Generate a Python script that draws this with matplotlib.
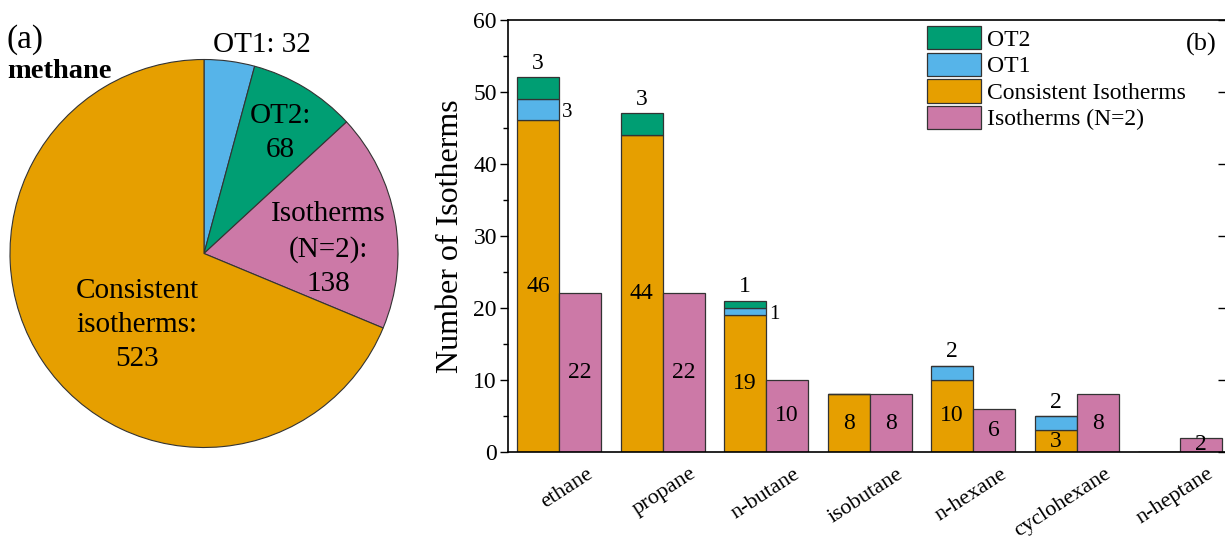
import numpy as np
import matplotlib
matplotlib.use("Agg")
import matplotlib.pyplot as plt
from matplotlib.ticker import MultipleLocator

plt.rcParams['font.family'] = ['Liberation Serif', 'DejaVu Serif']

# ---- data ----
pie_labels = ['OT1', 'OT2', 'Isotherms (N=2)', 'Consistent isotherms']
pie_values = [32, 68, 138, 523]

categories = ['ethane', 'propane', 'n-butane', 'isobutane', 'n-hexane', 'cyclohexane', 'n-heptane']
consistent = [46, 44, 19, 8, 10, 3, 0]
ot1 = [3, 0, 1, 0, 2, 2, 0]
ot2 = [3, 3, 1, 0, 0, 0, 0]
n2 = [22, 22, 10, 8, 6, 8, 2]

C_OT1 = '#56B4E9'
C_OT2 = '#009E73'
C_CON = '#E69F00'
C_N2 = '#CC79A7'
EDGE = '#333333'

W, H = 1225, 541
fig = plt.figure(figsize=(W / 100, H / 100), dpi=100)

# ---- pie ----
cx, cy, r = 204, 253.5, 194
axp = fig.add_axes([(cx - r) / W, (H - cy - r) / H, 2 * r / W, 2 * r / H])
axp.pie(pie_values, colors=[C_OT1, C_OT2, C_N2, C_CON], startangle=90, counterclock=False,
        wedgeprops=dict(edgecolor=EDGE, linewidth=0.8))
axp.set_xlim(-1.0, 1.0)
axp.set_ylim(-1.0, 1.0)
axp.set_aspect('equal')
axp.axis('off')

def ptxt(px, py, s, **kw):
    fig.text(px / W, 1 - py / H, s, **kw)

ptxt(262, 45, f'OT1: {pie_values[0]}', fontsize=21, ha='center', va='center')
ptxt(280, 133, f'OT2:\n{pie_values[1]}', fontsize=21, ha='center', va='center', linespacing=1.4)
ptxt(328, 249, f'Isotherms\n(N=2):\n{pie_values[2]}', fontsize=21, ha='center', va='center', linespacing=1.4)
ptxt(137, 325, f'Consistent\nisotherms:\n{pie_values[3]}', fontsize=21, ha='center', va='center', linespacing=1.4)
ptxt(7, 40, '(a)', fontsize=24, ha='left', va='center')
ptxt(7, 72, 'methane', fontsize=20.5, fontweight='bold', ha='left', va='center')

# ---- bars ----
left_px, right_px, top_px, bot_px = 508, 1226, 19.5, 452
ax = fig.add_axes([left_px / W, (H - bot_px) / H, (right_px - left_px) / W, (bot_px - top_px) / H])
x = np.arange(len(categories))
bw = 0.406
cons = np.array(consistent)
o1 = np.array(ot1)
o2 = np.array(ot2)
nn = np.array(n2)

kw = dict(width=bw, align='edge', edgecolor=EDGE, linewidth=0.9)
b_con = ax.bar(x - bw, cons, color=C_CON, label='Consistent Isotherms', **kw)
b_o1 = ax.bar(x - bw, o1, bottom=cons, color=C_OT1, label='OT1', **kw)
b_o2 = ax.bar(x - bw, o2, bottom=cons + o1, color=C_OT2, label='OT2', **kw)
b_n2 = ax.bar(x, nn, color=C_N2, label='Isotherms (N=2)', **kw)

fs = 17
for i in range(len(categories)):
    if cons[i] > 0:
        ax.text(x[i] - bw / 2, cons[i] / 2, str(cons[i]), ha='center', va='center', fontsize=fs)
    if nn[i] > 0:
        ax.text(x[i] + bw / 2, nn[i] / 2, str(nn[i]), ha='center', va='center', fontsize=fs)
    top = cons[i] + o1[i] + o2[i]
    if o2[i] > 0:
        ax.annotate(str(o2[i]), (x[i] - bw / 2, top), xytext=(0, 10), textcoords='offset points',
                    ha='center', va='center', fontsize=fs)
        if o1[i] > 0:
            ax.annotate(str(o1[i]), (x[i], cons[i] + o1[i] / 2), xytext=(6, -2), textcoords='offset points',
                        ha='center', va='center', fontsize=fs - 2)
    elif o1[i] > 0:
        ax.annotate(str(o1[i]), (x[i] - bw / 2, top), xytext=(0, 10), textcoords='offset points',
                    ha='center', va='center', fontsize=fs)

ax.set_xlim(-0.493, 6.444)
ax.set_ylim(0, 60)
ax.yaxis.set_major_locator(MultipleLocator(10))
ax.yaxis.set_minor_locator(MultipleLocator(5))
ax.tick_params(axis='y', which='major', direction='out', length=6, width=1, labelsize=17, pad=2)
ax.tick_params(axis='y', which='minor', direction='out', length=3.5, width=1)
ax.tick_params(axis='y', which='both', right=True)
for t in ax.yaxis.get_major_ticks():
    t.tick2line.set_marker(matplotlib.lines.TICKLEFT)
for t in ax.yaxis.get_minor_ticks():
    t.tick2line.set_visible(False)

label_shift = 27 / 103.5
ax.set_xticks(x + label_shift)
ax.set_xticklabels(categories, rotation=33, ha='right', va='top', rotation_mode='anchor', fontsize=16)
ax.tick_params(axis='x', length=0, pad=9)

for s in ['left', 'bottom', 'top', 'right']:
    ax.spines[s].set_linewidth(1.2)
ax.set_ylabel('Number of Isotherms', fontsize=23, labelpad=6)

fig.text(1201 / W, 1 - 44 / H, '(b)', fontsize=19, ha='center', va='center')

handles = [b_o2, b_o1, b_con, b_n2]
leg = ax.legend(handles, [h.get_label() for h in handles], loc='upper left',
                bbox_to_anchor=((927 - left_px) / (right_px - left_px), (bot_px - 26) / (bot_px - top_px)),
                frameon=False, fontsize=17, handlelength=2.3, handleheight=1.15,
                labelspacing=0.08, handletextpad=0.25, borderpad=0, borderaxespad=0)

fig.savefig('out.png', dpi=100)
